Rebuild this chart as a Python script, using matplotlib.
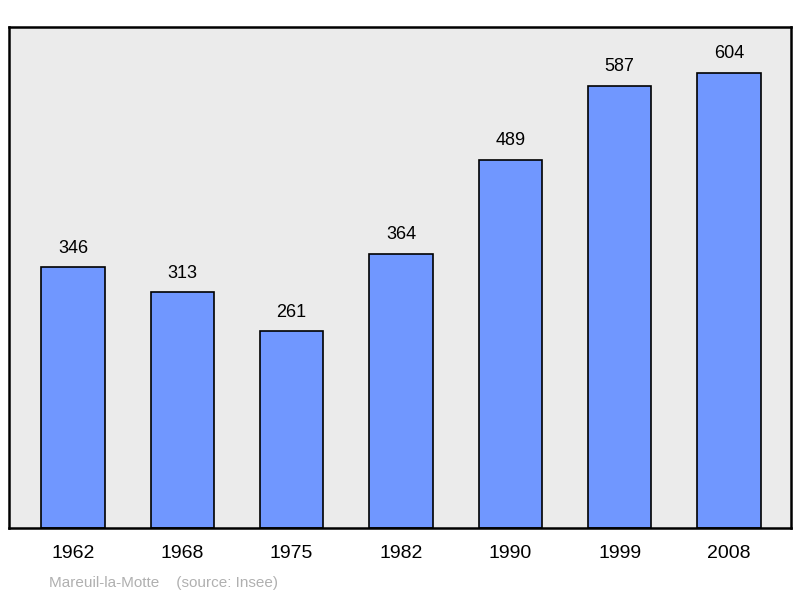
import matplotlib.pyplot as plt

plt.rcParams['font.family'] = ['Liberation Sans', 'DejaVu Sans']

years = ['1962', '1968', '1975', '1982', '1990', '1999', '2008']
population = [346, 313, 261, 364, 489, 587, 604]

fig = plt.figure(figsize=(8, 5.98), dpi=100)
ax = fig.add_axes([9 / 800, 70 / 598, 782 / 800, 501 / 598])
ax.set_facecolor('#ebebeb')

x = range(len(years))
ax.bar(x, population, width=0.58, color='#7097ff', edgecolor='black', linewidth=1.2, zorder=2)
for xi, v in zip(x, population):
    ax.text(xi, v + 14, str(v), ha='center', va='bottom', fontsize=13)

ax.set_xlim(-0.585, 6.567)
ax.set_ylim(0, 665)
ax.set_yticks([])
ax.set_xticks(list(x))
ax.set_xticklabels(years, fontsize=14)
ax.tick_params(axis='x', length=0, pad=12)
for s in ax.spines.values():
    s.set_linewidth(1.8)

fig.text(49 / 800, 1 - 583 / 598, 'Mareuil-la-Motte    (source: Insee)',
         fontsize=11, color='#b0b0b0', va='center')

fig.savefig('out.png', dpi=100)
